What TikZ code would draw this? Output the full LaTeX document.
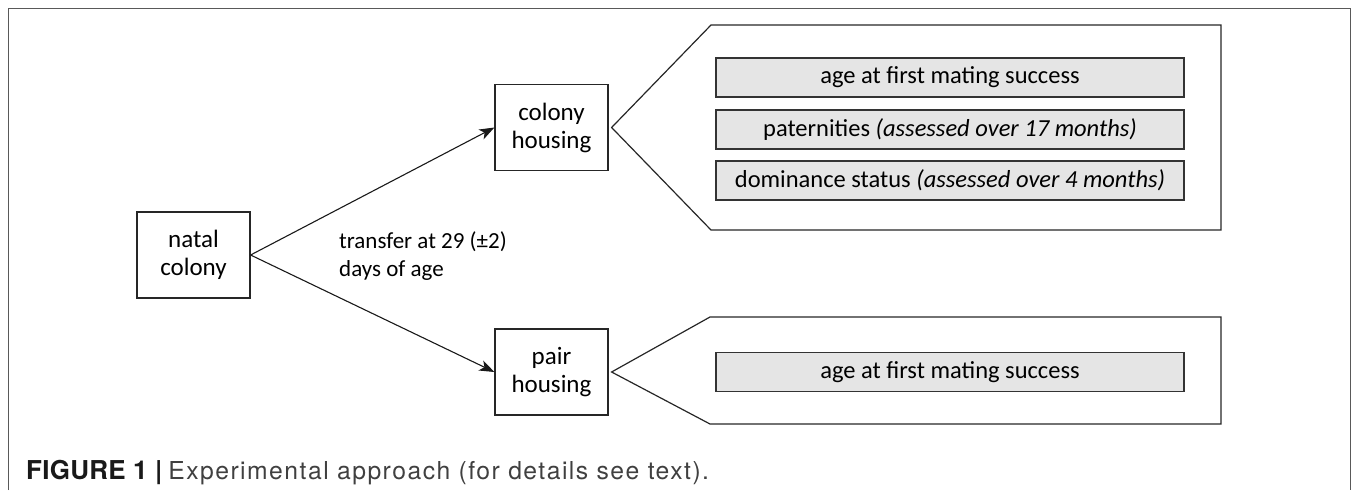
\documentclass[tikz,border=0pt]{standalone}
\usepackage{fontspec}
\setmainfont{Carlito}
\newfontfamily\capfont[LetterSpace=1]{TeX Gyre Heros}
\newfontfamily\capreg[LetterSpace=6]{TeX Gyre Heros}
\usetikzlibrary{arrows.meta,calc}
\begin{document}
\begin{tikzpicture}[x=1pt,y=-1pt,
  box/.style={draw=black!85, line width=1.2pt, minimum width=113pt, minimum height=86pt, align=center, font=\fontsize{25}{28}\selectfont, inner sep=0pt},
  item/.style={draw=black!80, fill=black!10, line width=1.2pt, minimum width=468pt, minimum height=39pt, inner sep=0pt, font=\fontsize{24.5}{28}\selectfont},
  arr/.style={-{Stealth[length=15pt,width=11pt,inset=4pt]}, line width=1.1pt, black!90},
  tag/.style={draw=black!85, line width=1.2pt},
  frame/.style={draw=black!65, line width=1pt}]
\useasboundingbox (0,0) rectangle (1357,490);
\coordinate (fbl) at (8,490);
\coordinate (ftl) at (8,8);
\coordinate (ftr) at (1350,8);
\coordinate (fbr) at (1350,490);
\draw[frame] (fbl) -- (ftl) -- (ftr) -- (fbr);

\node[box] (natal) at (193.5,255) {natal\\colony};
\node[box] (ch) at (551.5,127.5) {colony\\housing};
\node[box] (ph) at (551.5,372) {pair\\housing};

\draw[arr] (natal.east) -- (ch.west);
\draw[arr] (natal.east) -- (ph.west);
\node[anchor=west, align=left, font=\fontsize{23}{28}\selectfont, inner sep=0pt] (lab) at (339,256) {transfer at 29 (±2)\\days of age};

% upper tag
\coordinate (t1) at ($(ch.east)+(3,0)$);
\coordinate (t1a) at (711,25);
\coordinate (t1b) at (1221,25);
\coordinate (t1c) at (1221,230);
\coordinate (t1d) at (711,230);
\draw[tag] (t1) -- (t1a) -- (t1b) -- (t1c) -- (t1d) -- cycle;
\node[item] (i1) at (950,77.5) {age at first mating success};
\node[item] (i2) at (950,129.5) {paternities \textit{(assessed over 17 months)}};
\node[item] (i3) at (950,180.5) {dominance status \textit{(assessed over 4 months)}};

% lower tag
\coordinate (t2) at ($(ph.east)+(3,0)$);
\coordinate (t2a) at (710,317);
\coordinate (t2b) at (1221,317);
\coordinate (t2c) at (1221,424);
\coordinate (t2d) at (710,424);
\draw[tag] (t2) -- (t2a) -- (t2b) -- (t2c) -- (t2d) -- cycle;
\node[item] (i4) at (950,372) {age at first mating success};

\node[anchor=base west, inner sep=0pt, font=\fontsize{26}{28}\selectfont, text=black!75] (cap) at (26,479) {\textcolor{black!90}{\capfont\bfseries FIGURE 1 |} {\capreg\fontsize{24.7}{28}\selectfont Experimental approach (for details see text).}};
\end{tikzpicture}
\end{document}
